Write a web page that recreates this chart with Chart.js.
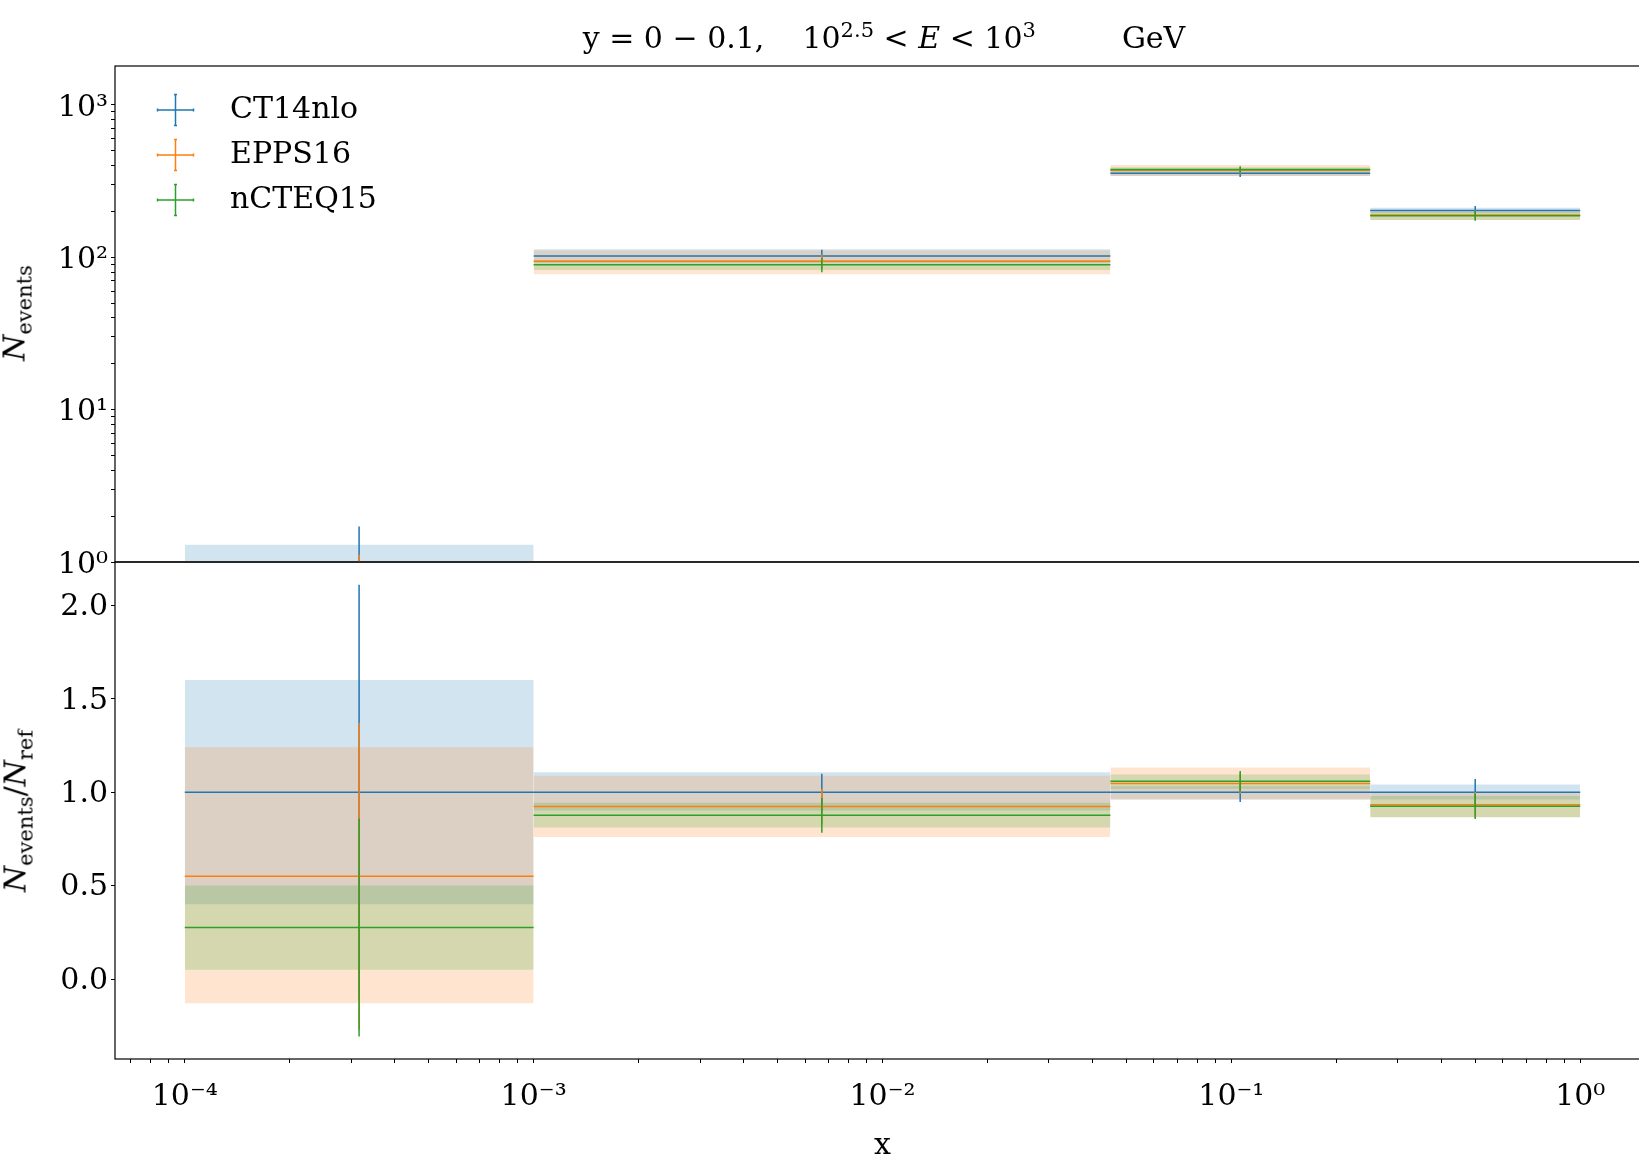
<!DOCTYPE html>
<html>
<head>
<meta charset="utf-8">
<script src="https://cdn.jsdelivr.net/npm/chart.js@4.4.1/dist/chart.umd.min.js"></script>
<style>
  html, body { margin: 0; padding: 0; background: #fff; overflow: hidden; width: 1639px; height: 1161px; }
  #wrap { position: relative; width: 1639px; height: 1161px; overflow: hidden; font-family: "DejaVu Serif", serif; }
  canvas { position: absolute; left: 0; }
  #cTop { top: 0; }
  #cBot { top: 500px; }
  .lbl { position: absolute; white-space: nowrap; font-size: 30px; color: #000; transform: translate(-50%, -50%); }
  .rot { transform: translate(-50%, -50%) rotate(-90deg); }
  sub, sup { font-size: 21px; line-height: 0; }
</style>
</head>
<body>
<div id="wrap">
  <canvas id="cBot" width="1660" height="661"></canvas>
  <canvas id="cTop" width="1660" height="600"></canvas>
  <div class="lbl" style="left:884px; top:37px;">y = 0 − 0.1,<span style="margin-left:38px"></span>10<sup>2.5</sup> &lt; <i>E</i> &lt; 10<sup>3</sup><span style="margin-left:86px"></span>GeV</div>
  <div class="lbl rot" style="left:14px; top:313px;"><i>N</i><sub>events</sub></div>
  <div class="lbl rot" style="left:15px; top:811px;"><i>N</i><sub>events</sub>/<i>N</i><sub>ref</sub></div>
</div>
<script>
// bins en x
const binEdges = [1e-4, 1e-3, 0.045, 0.25, 1];
const binCenters = [3.16e-4, 6.7e-3, 0.106, 0.5];
const seriesNames = ["CT14nlo", "EPPS16", "nCTEQ15"];
const seriesColors = ["31,119,180", "255,127,14", "44,160,44"];

// panel de arriba: N_events
const ct14Events = [0.81, 102, 356, 203];
const ct14Err = [0.90, 10.1, 18.9, 14.2];
const ct14Lo = [0.324, 92.0, 342.1, 195.1];
const ct14Hi = [1.296, 112.9, 367.4, 211.3];

const eppsEvents = [0.446, 94.2, 372.7, 189.4];
const eppsErr = [0.668, 9.7, 19.3, 13.8];
const eppsLo = [-0.105, 77.5, 342.1, 175.8];
const eppsHi = [1.004, 111.0, 403.0, 203.0];

const ncteqEvents = [0.224, 89.4, 377.0, 187.8];
const ncteqErr = [0.473, 9.45, 19.4, 13.7];
const ncteqLo = [0.041, 82.7, 362.4, 175.8];
const ncteqHi = [0.405, 96.2, 389.8, 198.7];

// panel de abajo: N_events / N_ref
const ct14Ratio = [1.0, 1.0, 1.0, 1.0];
const ct14RatioErr = [1.11, 0.099, 0.053, 0.070];
const ct14RatioLo = [0.40, 0.902, 0.961, 0.961];
const ct14RatioHi = [1.60, 1.107, 1.032, 1.041];

const eppsRatio = [0.55, 0.924, 1.047, 0.933];
const eppsRatioErr = [0.82, 0.095, 0.054, 0.068];
const eppsRatioLo = [-0.13, 0.760, 0.961, 0.866];
const eppsRatioHi = [1.24, 1.088, 1.132, 1.00];

const ncteqRatio = [0.276, 0.876, 1.059, 0.925];
const ncteqRatioErr = [0.583, 0.093, 0.055, 0.068];
const ncteqRatioLo = [0.05, 0.811, 1.018, 0.866];
const ncteqRatioHi = [0.50, 0.943, 1.095, 0.979];

// ticks
const xTickValues = [1e-4, 1e-3, 1e-2, 1e-1, 1];
const xTickLabels = ["10⁻⁴", "10⁻³", "10⁻²", "10⁻¹", "10⁰"];
const yTopTickValues = [1, 10, 100, 1000];
const yTopTickLabels = ["10⁰", "10¹", "10²", "10³"];
const yBotTickValues = [0, 0.5, 1.0, 1.5, 2.0];

const font = { family: "DejaVu Serif", size: 30 };

// busca si el valor es uno de los ticks mayores
function majorIndex(list, v) {
  return list.findIndex((t) => Math.abs(Math.log10(t) - Math.log10(v)) < 1e-6);
}

// ticks menores de escala log: 1..9 x 10^n dentro del rango
function logTicks(min, max) {
  let out = [];
  for (let n = Math.floor(Math.log10(min)); n <= Math.ceil(Math.log10(max)); n++) {
    for (let m = 1; m < 10; m++) {
      let v = m * Math.pow(10, n);
      if (v >= min && v <= max) out.push({ value: v });
    }
  }
  return out;
}

function panelDatasets(values, errs, los, his, floor) {
  let out = [];
  for (let s = 0; s < seriesNames.length; s++) {
    const rgb = seriesColors[s];
    const order = seriesNames.length - s;
    // bandas de incertidumbre
    for (let b = 0; b < binCenters.length; b++) {
      out.push({
        order: order + 10,
        data: [{ x: binEdges[b], y: Math.max(his[s][b], floor) }, { x: binEdges[b + 1], y: Math.max(his[s][b], floor) }],
        fill: { value: Math.max(los[s][b], floor) },
        backgroundColor: `rgba(${rgb},0.2)`,
        borderColor: "rgba(0,0,0,0)",
        borderWidth: 0,
        pointRadius: 0,
      });
    }
    // barras de error: horizontal (ancho del bin) y vertical
    let hLine = [];
    let vLine = [];
    for (let b = 0; b < binCenters.length; b++) {
      hLine.push({ x: binEdges[b], y: values[s][b] }, { x: binEdges[b + 1], y: values[s][b] }, { x: binEdges[b + 1], y: null });
      vLine.push(
        { x: binCenters[b], y: Math.max(values[s][b] - errs[s][b], floor) },
        { x: binCenters[b], y: values[s][b] + errs[s][b] },
        { x: binCenters[b], y: null }
      );
    }
    [hLine, vLine].forEach((d) => {
      out.push({ order, data: d, fill: false, borderColor: `rgb(${rgb})`, borderWidth: 1.5, pointRadius: 0, spanGaps: false, tension: 0 });
    });
  }
  return out;
}

function legendMarker(rgb) {
  const c = document.createElement("canvas");
  c.width = 85;
  c.height = 34;
  const g = c.getContext("2d");
  const cx = 45.5, cy = 17;
  g.strokeStyle = `rgb(${rgb})`;
  g.lineWidth = 1.5;
  g.beginPath();
  g.moveTo(cx - 18, cy); g.lineTo(cx + 18, cy);
  g.moveTo(cx, cy - 15.5); g.lineTo(cx, cy + 15.5);
  g.moveTo(cx - 18, cy - 1.5); g.lineTo(cx - 18, cy + 1.5);
  g.moveTo(cx + 18, cy - 1.5); g.lineTo(cx + 18, cy + 1.5);
  g.moveTo(cx - 1.5, cy - 15.5); g.lineTo(cx + 1.5, cy - 15.5);
  g.moveTo(cx - 1.5, cy + 15.5); g.lineTo(cx + 1.5, cy + 15.5);
  g.stroke();
  return c;
}
const markers = seriesColors.map(legendMarker);

// marco negro alrededor del area
const framePlugin = {
  id: "frame",
  afterDraw(chart) {
    const { ctx, chartArea: a } = chart;
    ctx.save();
    ctx.strokeStyle = "#000";
    ctx.lineWidth = 1.2;
    ctx.strokeRect(a.left, a.top, a.right - a.left, a.bottom - a.top);
    ctx.restore();
  },
};

const tickGrid = {
  drawOnChartArea: false,
  drawTicks: true,
  tickLength: 4,
  tickColor: "#000",
  tickWidth: 1,
};

const xMin = Math.pow(10, -4.2);
const xMax = Math.pow(10, 0.2);

// grafico de arriba
new Chart(document.getElementById("cTop"), {
  type: "line",
  data: {
    datasets: panelDatasets(
      [ct14Events, eppsEvents, ncteqEvents],
      [ct14Err, eppsErr, ncteqErr],
      [ct14Lo, eppsLo, ncteqLo],
      [ct14Hi, eppsHi, ncteqHi],
      0.5
    ),
  },
  options: {
    responsive: false,
    animation: false,
    devicePixelRatio: 1,
    layout: { padding: { left: 0, right: 10, top: 66, bottom: 38 } },
    scales: {
      x: { type: "logarithmic", min: xMin, max: xMax, display: false },
      y: {
        type: "logarithmic",
        min: 1,
        max: 1803,
        afterFit: (scale) => { scale.width = 115; },
        afterBuildTicks: (scale) => { scale.ticks = logTicks(1, 1803); },
        ticks: {
          autoSkip: false,
          padding: 3,
          labelOffset: 3,
          color: "#000",
          font,
          callback: (v) => {
            const i = majorIndex(yTopTickValues, v);
            return i >= 0 ? yTopTickLabels[i] : "";
          },
        },
        grid: tickGrid,
        border: { display: false },
      },
    },
    plugins: {
      filler: { drawTime: "beforeDatasetsDraw" },
      tooltip: { enabled: false },
      legend: {
        position: "chartArea",
        align: "start",
        title: { display: true, text: "", font: { size: 1, lineHeight: 1 }, padding: { top: 79, bottom: 0 } },
        labels: {
          usePointStyle: true,
          pointStyleWidth: 85,
          padding: 15,
          color: "#000",
          font,
          generateLabels: () =>
            seriesNames.map((name, i) => ({
              text: name,
              pointStyle: markers[i],
              fillStyle: "rgba(0,0,0,0)",
              strokeStyle: "rgba(0,0,0,0)",
              lineWidth: 0,
              hidden: false,
              datasetIndex: i,
              fontColor: "#000",
            })),
        },
      },
    },
  },
  plugins: [framePlugin],
});

// grafico de abajo (cociente)
new Chart(document.getElementById("cBot"), {
  type: "line",
  data: {
    datasets: panelDatasets(
      [ct14Ratio, eppsRatio, ncteqRatio],
      [ct14RatioErr, eppsRatioErr, ncteqRatioErr],
      [ct14RatioLo, eppsRatioLo, ncteqRatioLo],
      [ct14RatioHi, eppsRatioHi, ncteqRatioHi],
      -10
    ),
  },
  options: {
    responsive: false,
    animation: false,
    devicePixelRatio: 1,
    layout: { padding: { left: 0, right: 10, top: 62, bottom: 0 } },
    scales: {
      x: {
        type: "logarithmic",
        min: xMin,
        max: xMax,
        afterFit: (scale) => { scale.height = 102; },
        afterBuildTicks: (scale) => { scale.ticks = logTicks(xMin, xMax); },
        ticks: {
          autoSkip: false,
          maxRotation: 0,
          padding: 16,
          color: "#000",
          font,
          callback: (v) => {
            const i = majorIndex(xTickValues, v);
            return i >= 0 ? xTickLabels[i] : "";
          },
        },
        title: { display: true, text: "x", color: "#000", font, padding: { top: 0, bottom: -3 } },
        grid: tickGrid,
        border: { display: false },
      },
      y: {
        type: "linear",
        min: -0.428,
        max: 2.232,
        afterFit: (scale) => { scale.width = 115; },
        afterBuildTicks: (scale) => { scale.ticks = yBotTickValues.map((v) => ({ value: v })); },
        ticks: {
          autoSkip: false,
          padding: 3,
          labelOffset: 2,
          color: "#000",
          font,
          callback: (v) => v.toFixed(1),
        },
        grid: tickGrid,
        border: { display: false },
      },
    },
    plugins: {
      filler: { drawTime: "beforeDatasetsDraw" },
      tooltip: { enabled: false },
      legend: { display: false },
    },
  },
  plugins: [framePlugin],
});
</script>
</body>
</html>
